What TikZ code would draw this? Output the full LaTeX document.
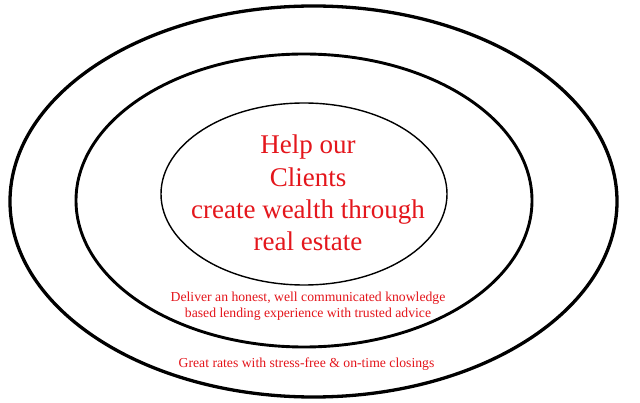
\documentclass[tikz,border=0pt]{standalone}
\usepackage{fontspec}
\setmainfont{Liberation Serif}
\definecolor{txtred}{RGB}{228,22,28}
\begin{document}
\begin{tikzpicture}[x=1pt,y=-1pt,
  ring/.style={draw=black},
  bigtxt/.style={text=txtred,font=\fontsize{27}{32}\selectfont,anchor=base,inner sep=0pt},
  smalltxt/.style={text=txtred,font=\fontsize{13.7}{16}\selectfont,anchor=base,inner sep=0pt}]
\useasboundingbox (0,0) rectangle (640,403);
\fill[white] (0,0) rectangle (640,403);
\draw[ring,line width=3.3pt] (313.5,201.5) ellipse [x radius=303.5pt, y radius=195.5pt];
\draw[ring,line width=2.9pt] (304,200.5) ellipse [x radius=228pt, y radius=146.5pt];
\draw[ring,line width=1.4pt] (304,194) ellipse [x radius=143pt, y radius=91pt];
\node[bigtxt] (l1) at (308,154) {Help our};
\node[bigtxt] (l2) at (308,187) {Clients};
\node[bigtxt] (l3) at (308,219) {create wealth through};
\node[bigtxt] (l4) at (308,251) {real estate};
\node[smalltxt] (m1) at (308,302) {Deliver an honest, well communicated knowledge};
\node[smalltxt] (m2) at (308,318) {based lending experience with trusted advice};
\node[smalltxt] (o1) at (306.5,367) {Great rates with stress-free \& on-time closings};
\end{tikzpicture}
\end{document}
